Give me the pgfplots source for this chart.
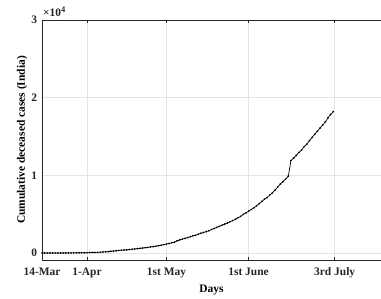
\documentclass[border=0pt]{standalone}
\usepackage{fontspec}
\setmainfont{Liberation Serif}
\usepackage{pgfplots}
\pgfplotsset{compat=1.18}
\definecolor{axgray}{RGB}{38,38,38}
\definecolor{gridgray}{RGB}{228,228,228}
\begin{document}
\begin{tikzpicture}
\begin{axis}[
  name=ax,
  scale only axis,
  width=339bp, height=240bp,
  xmin=0, xmax=128, ymin=-900, ymax=30000,
  xtick={0,17,47,78,110.5},
  xticklabels={14-Mar,1-Apr,1st May,1st June,3rd July},
  ytick={0,10000,20000,30000},
  yticklabels={0,1,2,3},
  scaled y ticks=false,
  grid=major,
  major grid style={gridgray, line width=0.6pt},
  axis line style={axgray, line width=0.6pt},
  tick style={axgray, line width=0.6pt},
  tick align=inside,
  major tick length=3bp,
  ytick style={draw=none},
  tick label style={font=\fontsize{11.5}{13}\selectfont\bfseries, text=axgray},
  xticklabel style={yshift=-4bp},
  yticklabel style={xshift=-1.5bp},
  label style={font=\fontsize{11.5}{13}\selectfont\bfseries},
  xlabel={Days},
  ylabel={Cumulative deceased cases (India)},
  xlabel style={yshift=0bp},
  ylabel style={yshift=-3bp},
  clip=false,
]
\addplot[black, line width=0.7pt, mark=*, mark size=0.45pt] coordinates {
(0,2)(1,2)(2,2)(3,3)(4,3)(5,4)(6,5)(7,5)(8,7)(9,10)(10,10)(11,12)(12,20)(13,20)(14,24)(15,27)(16,32)(17,35)
(18,58)(19,72)(20,72)(21,86)(22,99)(23,136)(24,150)(25,178)(26,226)(27,246)(28,288)(29,331)(30,358)(31,393)(32,405)(33,448)(34,486)(35,521)(36,559)(37,592)(38,645)(39,681)(40,721)(41,780)(42,825)(43,881)(44,939)(45,1008)(46,1079)(47,1154)
(48,1223)(49,1323)(50,1391)(51,1566)(52,1693)(53,1785)(54,1889)(55,1985)(56,2101)(57,2212)(58,2294)(59,2415)(60,2551)(61,2649)(62,2753)(63,2871)(64,3025)(65,3156)(66,3302)(67,3434)(68,3584)(69,3726)(70,3868)(71,4024)(72,4172)(73,4344)(74,4534)(75,4711)(76,4980)(77,5164)(78,5394)
(79,5598)(80,5815)(81,6075)(82,6348)(83,6642)(84,6929)(85,7135)(86,7466)(87,7745)(88,8102)(89,8498)(90,8884)(91,9195)(92,9520)(93,9900)(94,11903)(95,12237)(96,12573)(97,12948)(98,13254)(99,13699)(100,14011)(101,14476)(102,14894)(103,15301)(104,15685)(105,16095)(106,16475)(107,16893)(108,17400)(109,17834)(110,18213)
};
\node[anchor=base west, inner sep=0pt, font=\fontsize{11.5}{13}\selectfont\bfseries, text=axgray] at ([xshift=1bp,yshift=3bp]rel axis cs:0,1) {×10\raisebox{4.5bp}{\fontsize{8.5}{9}\selectfont 4}};
\end{axis}
\pgfresetboundingbox
\path[use as bounding box] ([xshift=-42bp,yshift=-39bp]ax.south west) rectangle ([yshift=20bp]ax.north east);
\end{tikzpicture}
\end{document}
